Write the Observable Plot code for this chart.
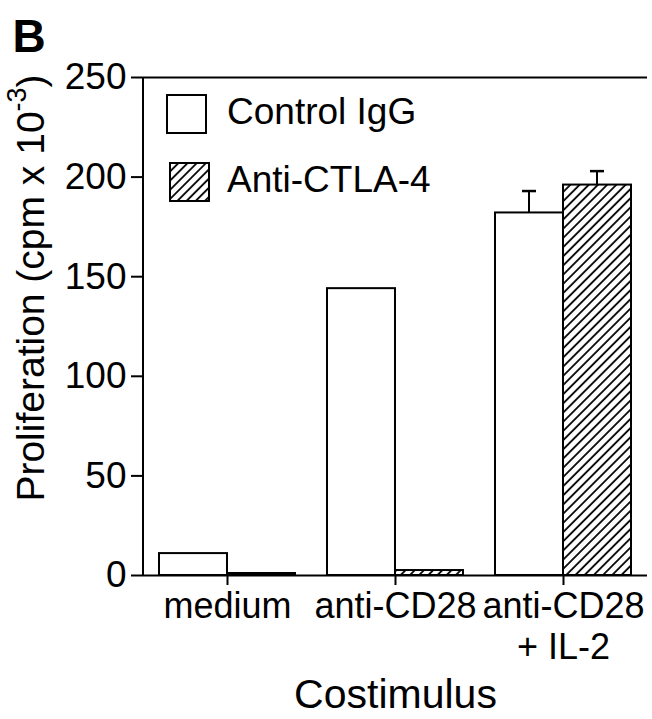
<!DOCTYPE html>
<html>
<head>
<meta charset="utf-8">
<script src="https://cdn.jsdelivr.net/npm/d3@7"></script>
<script src="https://cdn.jsdelivr.net/npm/@observablehq/plot@0.6"></script>
<style>
  html, body { margin: 0; padding: 0; background: #fff; }
  svg { font-family: "Liberation Sans", Arial, Helvetica, sans-serif; }
</style>
</head>
<body>
<div id="chart"></div>
<script>
// ---- data ----
const conditions = ["medium", "anti-CD28", "anti-CD28\n+ IL-2"];
const seriesNames = ["Control IgG", "Anti-CTLA-4"];
const controlValues = [11, 144, 182];
const ctla4Values = [1, 2.5, 196];
const controlErrors = [0, 0, 11];
const ctla4Errors = [0, 0, 7];
const yTicks = [0, 50, 100, 150, 200, 250];

const rows = [];
conditions.forEach((c, i) => {
  rows.push({cond: c, series: seriesNames[0], value: controlValues[i], err: controlErrors[i]});
  rows.push({cond: c, series: seriesNames[1], value: ctla4Values[i], err: ctla4Errors[i]});
});
const ctrl = rows.filter(d => d.series === seriesNames[0]);
const anti = rows.filter(d => d.series === seriesNames[1]);
const ctrlErr = ctrl.filter(d => d.err > 0);
const antiErr = anti.filter(d => d.err > 0);

const W = 652, H = 719;
const half = 68; // half of band width (style)
const plot = Plot.plot({
  width: W,
  height: H,
  marginLeft: 143,
  marginRight: 5,
  marginTop: 77,
  marginBottom: 144,
  style: {fontFamily: '"Liberation Sans", Arial, Helvetica, sans-serif', color: "#000", background: "#fff"},
  x: {domain: conditions, paddingInner: 0.19, paddingOuter: 0.095},
  y: {domain: [0, 250]},
  marks: [
    Plot.barY(ctrl, {x: "cond", y: "value", insetRight: half, fill: "white", stroke: "black", strokeWidth: 2}),
    Plot.barY(anti, {x: "cond", y: "value", insetLeft: half, fill: "url(#hatch)", stroke: "black", strokeWidth: 2}),
    // error bars
    Plot.barY(ctrlErr, {x: "cond", y1: "value", y2: d => d.value + d.err, insetLeft: 33, insetRight: half + 33, fill: "black"}),
    Plot.tickY(ctrlErr, {x: "cond", y: d => d.value + d.err, insetLeft: 27, insetRight: half + 27, stroke: "black", strokeWidth: 2.5}),
    Plot.barY(antiErr, {x: "cond", y1: "value", y2: d => d.value + d.err, insetLeft: half + 33, insetRight: 33, fill: "black"}),
    Plot.tickY(antiErr, {x: "cond", y: d => d.value + d.err, insetLeft: half + 27, insetRight: 27, stroke: "black", strokeWidth: 2.5}),
    Plot.ruleY([0, 250], {stroke: "black", strokeWidth: 2}),
    Plot.axisY({ticks: yTicks, tickSize: 12, tickPadding: 5, fontSize: 37, label: null, strokeWidth: 2}),
    Plot.axisX({tickSize: 10, tickPadding: 3, fontSize: 36, lineHeight: 1.15, label: null, strokeWidth: 2}),
    Plot.text(["Costimulus"], {frameAnchor: "bottom", dy: 132, fontSize: 41}),
    Plot.text(["B"], {frameAnchor: "top-left", textAnchor: "start", dx: -131, dy: -58, fontSize: 46, fontWeight: "bold"})
  ]
});

document.getElementById("chart").appendChild(plot);
const svg = d3.select(plot);

// hatch pattern
const defs = svg.insert("defs", ":first-child");
const pat = defs.append("pattern")
  .attr("id", "hatch").attr("patternUnits", "userSpaceOnUse")
  .attr("width", 6.5).attr("height", 6.5)
  .attr("patternTransform", "rotate(45)");
pat.append("rect").attr("width", 6.5).attr("height", 6.5).attr("fill", "white");
pat.append("line").attr("x1", 1).attr("y1", 0).attr("x2", 1).attr("y2", 6.5)
  .attr("stroke", "black").attr("stroke-width", 1.8);

const xs = plot.scale("x"), ys = plot.scale("y");
const left = xs.range[0];
// left axis line
svg.append("line").attr("x1", left).attr("x2", left)
  .attr("y1", ys.apply(0)).attr("y2", ys.apply(250))
  .attr("stroke", "black").attr("stroke-width", 2);

// y-axis title with superscript
const yt = svg.append("text")
  .attr("transform", `translate(34,${(ys.apply(0) + ys.apply(250)) / 2 - 38}) rotate(-90)`)
  .attr("text-anchor", "middle").attr("dominant-baseline", "middle")
  .attr("font-size", 39).attr("fill", "black");
yt.append("tspan").text("Proliferation (cpm x 10");
yt.append("tspan").attr("baseline-shift", "super").attr("font-size", 27).text("-3");
yt.append("tspan").text(")");

// legend
const lg = svg.append("g").attr("font-size", 37).attr("text-anchor", "start");
const items = [{name: seriesNames[0], fill: "white", x: 167, y: 95}, {name: seriesNames[1], fill: "url(#hatch)", x: 170, y: 163}];
items.forEach(it => {
  lg.append("rect").attr("x", it.x).attr("y", it.y).attr("width", 39).attr("height", 38)
    .attr("fill", it.fill).attr("stroke", "black").attr("stroke-width", 2);
  lg.append("text").attr("x", 227).attr("y", it.y + 19).attr("dominant-baseline", "middle")
    .attr("text-anchor", "start").attr("fill", "black").text(it.name);
});
</script>
</body>
</html>
